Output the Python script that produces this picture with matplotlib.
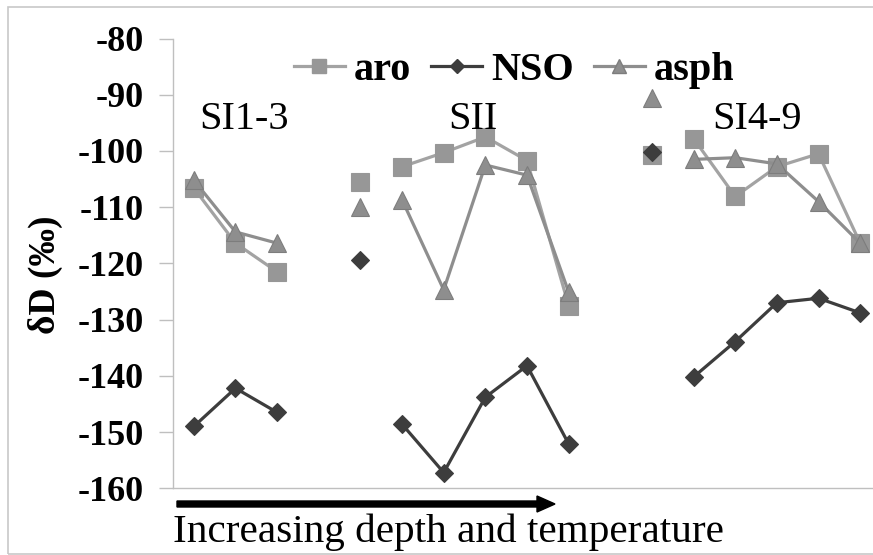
import matplotlib
matplotlib.use("Agg")
import matplotlib.pyplot as plt
import numpy as np
from matplotlib.lines import Line2D
from matplotlib.patches import Rectangle, FancyArrow

nan = np.nan
positions = np.arange(1, 18)
aro = [-106.6, -116.4, -121.5, nan, -105.5, -102.8, -100.3, -97.5, -101.7, -127.5,
       nan, -100.8, -97.8, -108.1, -102.8, -100.5, -116.4]
nso = [-149.0, -142.2, -146.5, nan, -119.4, -148.6, -157.2, -143.8, -138.2, -152.1,
       nan, -100.1, -140.2, -133.9, -127.0, -126.2, -128.8]
asph = [-105.2, -114.4, -116.4, nan, -109.9, -108.7, -124.7, -102.5, -104.3, -125.1,
        nan, -90.6, -101.5, -101.2, -102.3, -109.0, -116.4]
# index ranges that are joined by lines
segments = [(0, 3), (4, 5), (5, 10), (11, 12), (12, 17)]
group_labels = ["SI1-3", "SII", "SI4-9"]
group_x = [2.2, 7.7, 14.52]
y_ticks = list(range(-160, -79, 10))

SERIF = "Liberation Serif"
plt.rcParams["font.family"] = SERIF

ARO_C = "#979797"
NSO_C = "#3d3d3d"
ASPH_C = "#8e8e8e"

fig = plt.figure(figsize=(8.73, 5.55), dpi=100)
ax = fig.add_axes([173 / 873, 1 - 488.3 / 555, 708 / 873, 449.8 / 555])

styles = [
    (aro, ARO_C, ARO_C, "s", 12.5, "#a3a3a3"),
    (nso, NSO_C, NSO_C, "D", 9, NSO_C),
    (asph, ASPH_C, "#7d7d7d", "^", 13, ASPH_C),
]
order = [0, 2, 1]
for idx in order:
    vals, fc, ec, mk, ms, lc = styles[idx]
    vals = np.array(vals)
    for a, b in segments:
        ax.plot(positions[a:b], vals[a:b], color=lc, linewidth=2.3,
                marker=mk, markersize=ms, markerfacecolor=fc,
                markeredgecolor=ec, markeredgewidth=0.8, zorder=3 + idx)

ax.set_xlim(0.5, 17.5)
ax.set_ylim(-160, -80)
ax.set_yticks(y_ticks)
ax.set_yticklabels([str(t) for t in y_ticks], fontsize=26, fontweight="bold",
                   family=SERIF)
ax.set_xticks([])
for side in ["top", "right"]:
    ax.spines[side].set_visible(False)
for side in ["left", "bottom"]:
    ax.spines[side].set_color("#bfbfbf")
    ax.spines[side].set_linewidth(1.0)
ax.tick_params(axis="y", length=10, color="#bfbfbf", width=1.0, pad=11)
ax.set_ylabel("δD (‰)", fontsize=27, fontweight="bold", family=SERIF)
ax.yaxis.set_label_coords(-0.155, 0.475)

for lbl, gx in zip(group_labels, group_x):
    ax.text(gx, -94.4, lbl, fontsize=29, ha="center", va="center", family=SERIF)

handles = [
    Line2D([], [], color="#a3a3a3", linewidth=2.3, marker="s", markersize=10,
           markerfacecolor=ARO_C, markeredgecolor=ARO_C),
    Line2D([], [], color=NSO_C, linewidth=2.3, marker="D", markersize=7,
           markerfacecolor=NSO_C, markeredgecolor=NSO_C),
    Line2D([], [], color=ASPH_C, linewidth=2.3, marker="^", markersize=10,
           markerfacecolor=ASPH_C, markeredgecolor="#7d7d7d"),
]
fig.legend(handles, ["aro", "NSO", "asph"], loc="center", ncol=3,
           bbox_to_anchor=(514 / 873, 1 - 70 / 555), frameon=False,
           prop={"size": 29, "weight": "bold", "family": SERIF},
           handlelength=1.27, handletextpad=0.22, columnspacing=0.5,
           borderpad=0)

fig.patches.append(Rectangle((8 / 873, 1 / 555), 1.0, 547 / 555,
                             transform=fig.transFigure, fill=False,
                             edgecolor="#c8c8c8", linewidth=1.2))

fig.add_artist(FancyArrow(
    177 / 873, 1 - 504 / 555, 360 / 873, 0, width=6 / 555,
    head_width=16 / 555, head_length=18 / 873, length_includes_head=False,
    color="black", transform=fig.transFigure))
fig.text(173 / 873, 1 - 532 / 555, "Increasing depth and temperature",
         fontsize=29.7, ha="left", va="center", family=SERIF)

fig.savefig("out.png", dpi=100)
